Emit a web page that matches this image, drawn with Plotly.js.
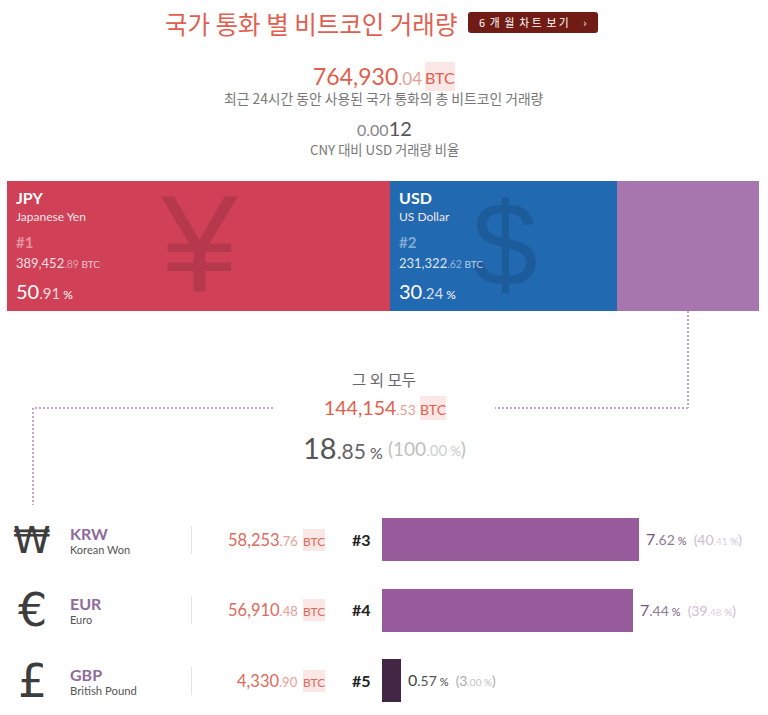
<!DOCTYPE html>
<html><head><meta charset="utf-8">
<script src="https://cdn.plot.ly/plotly-3.0.1.min.js"></script>
<style>html,body{margin:0;padding:0;background:#fff;overflow:hidden}</style>
</head><body><div id="chart" style="width:768px;height:715px"></div>
<script>
// ---- data ----
const topCodes = ["JPY", "USD", "Others"];
const topNames = ["Japanese Yen", "US Dollar", ""];
const topBtc = [389452.89, 231322.62, 144154.53];
const topPct = [50.91, 30.24, 18.85];
const topColors = ["#d04057", "#2169b0", "#a876ae"];
const topSymbols = ["¥", "$"];
const restCodes = ["KRW", "EUR", "GBP"];
const restNames = ["Korean Won", "Euro", "British Pound"];
const restSymbols = ["₩", "€", "£"];
const restRanks = ["#3", "#4", "#5"];
const restBtc = [58253.76, 56910.48, 4330.90];
const restPct = [7.62, 7.44, 0.57];
const restShare = [40.41, 39.48, 3.00];
const restColors = ["#975b9b", "#975b9b", "#432643"];
const totalBtc = 764930.04;
const ratio = "0.0012";
const othersLabel = "그 외 모두";
const titleText = "국가 통화 별 비트코인 거래량";
const buttonText = "6  개  월  차 트  보 기      ›";
const totalCaption = "최근 24시간 동안 사용된 국가 통화의 총 비트코인 거래량";
const ratioCaption = "CNY 대비 USD 거래량 비율";

// ---- helpers ----
const W = 768, H = 715;
const LATIN = "Lato, 'Noto Sans CJK KR', sans-serif";
const KR = "'Noto Sans CJK KR', sans-serif";
const px = x => x / W, py = y => 1 - y / H;
const ann = [];
function note(x, y, text, size, color, anchor, family) {
  ann.push({xref:"paper", yref:"paper", x:px(x), y:py(y), text, showarrow:false,
    xanchor:anchor||"left", yanchor:"middle", borderpad:0,
    font:{size, color, family:family||LATIN}});
}
const span = (t, size, color) => `<span style="font-size:${size}px;color:${color}">${t}</span>`;
function parts(v) {
  const [w, f] = v.toFixed(2).split(".");
  return [Number(w).toLocaleString("en-US"), "." + f];
}
const shapes = [];
function rect(x0, y0, x1, y1, color) {
  shapes.push({type:"rect", xref:"paper", yref:"paper", x0:px(x0), x1:px(x1), y0:py(y0), y1:py(y1),
    fillcolor:color, line:{width:0}, layer:"below"});
}
function dots(pts) {
  pts.slice(1).forEach((p, i) => shapes.push({type:"line", xref:"paper", yref:"paper",
    x0:px(pts[i][0]), y0:py(pts[i][1]), x1:px(p[0]), y1:py(p[1]),
    line:{color:"#c8a4cd", width:2, dash:"2px 2px"}}));
}
const PINK = "#fbe7e5", RED = "#e0604f", REDL = "#e8a096";

// ---- header ----
note(311, 24, titleText, 24.5, RED, "center", KR);
const r = 3;
shapes.push({type:"path", xref:"paper", yref:"paper", fillcolor:"#701c14", line:{width:0},
  path:`M${px(468+r)},${py(12)} L${px(598-r)},${py(12)} Q${px(598)},${py(12)} ${px(598)},${py(12+r)} L${px(598)},${py(33-r)} Q${px(598)},${py(33)} ${px(598-r)},${py(33)} L${px(468+r)},${py(33)} Q${px(468)},${py(33)} ${px(468)},${py(33-r)} L${px(468)},${py(12+r)} Q${px(468)},${py(12)} ${px(468+r)},${py(12)} Z`});
note(533, 22, buttonText, 10.8, "#ffffff", "center", KR);

const tp = parts(totalBtc);
rect(425, 62, 455, 91, PINK);
note(423, 76, tp[0] + span(tp[1], 17, REDL), 23, RED, "right");
note(440, 77, "BTC", 16, RED, "center");
note(384, 98, totalCaption, 13.8, "#777777", "center", KR);
note(384, 128, span(ratio.slice(0, 4), 16, "#888888") + ratio.slice(4), 20, "#555555", "center");
note(384, 149, ratioCaption, 13.3, "#777777", "center", KR);

// ---- stacked bar texts ----
const topX = [14.5, 397.5], symX = [199, 505];
const symSize = [138, 118];
topSymbols.forEach((s, i) => {
  note(symX[i], i === 0 ? 243 : 244, s, symSize[i], "rgba(0,0,0,0.12)", "center", "'Liberation Sans', sans-serif");
  const p = parts(topBtc[i]), q = parts(topPct[i]);
  note(topX[i], 197.5, `<b>${topCodes[i]}</b>`, 16, "#ffffff");
  note(topX[i], 216, topNames[i], 12, "#f4e6e8");
  note(topX[i], 242, `<b>#${i + 1}</b>`, 15, "rgba(255,255,255,0.45)");
  note(topX[i], 263, p[0] + span(p[1], 10.5, "rgba(255,255,255,0.6)") + span(" BTC", 10, "rgba(255,255,255,0.85)"), 13, "rgba(255,255,255,0.85)");
  note(topX[i], 291, q[0] + span(q[1], 15, "rgba(255,255,255,0.8)") + span(" %", 12, "#ffffff"), 20, "#ffffff");
});

// ---- others ----
const op = parts(topBtc[2]);
note(384, 379, othersLabel, 15.5, "#666666", "center", KR);
rect(420, 396, 446, 420, PINK);
note(417, 408, op[0] + span(op[1], 14, REDL), 19.5, RED, "right");
note(433, 409, "BTC", 14, RED, "center");
const oq = parts(topPct[2]);
note(384, 447, oq[0] + span(oq[1], 21, "#666666") + span(" %", 16, "#555555"), 29, "#555555", "right");
note(387, 448, "(100" + span(".00", 15, "#d0d0d0") + span(" %", 13, "#c8c8c8") + ")", 19, "#c0c0c0", "left");
dots([[688, 311], [688, 408], [495, 408]]);
dots([[273, 408], [33, 408], [33, 505]]);

// ---- rows ----
const rowY = [540, 610, 681];
const nameSize = [11, 11, 11.3];
restCodes.forEach((c, i) => {
  const y = rowY[i], p = parts(restBtc[i]);
  note(32, y, restSymbols[i], i === 0 ? 38 : 46, "#3d3d3d", "center", "'DejaVu Sans', sans-serif");
  note(68.5, y - 6.5, `<b>${c}</b>`, 16, "#8f6a9c");
  note(68.5, y + 9, restNames[i], nameSize[i], "#555555");
  rect(191, y - 14, 192, y + 14, "#e4e4e4");
  rect(303, y - 11, 325, y + 11, PINK);
  note(299, y, p[0] + span(p[1], 13, REDL), 16.5, "#dd6a5e", "right");
  note(314, y + 1, "BTC", 12, "#dd6a5e", "center");
  note(351, y - 0.5, `<b>${restRanks[i]}</b>`, 16, "#222222");
  const q = parts(restPct[i]), s = parts(restShare[i]);
  const dark = i === 2;
  ann.push({xref:"x2", yref:"y2", x:restBtc[i], y:i, xanchor:"left", yanchor:"middle", xshift:6, yshift:1, showarrow:false,
    borderpad:0, font:{size:16, color:dark ? "#444444" : "#75557f", family:LATIN},
    text: q[0] + span(q[1], 14, dark ? "#555555" : "#8f7a96") + span(" %", 11, dark ? "#444444" : "#75557f")
      + span("  (" + s[0], 14, dark ? "#aaaaaa" : "#cdbdd3") + span(s[1], 10, dark ? "#c4c4c4" : "#ddd2e0")
      + span(" %", 10, dark ? "#bbbbbb" : "#cdbdd3") + span(")", 14, dark ? "#aaaaaa" : "#cdbdd3")});
});

// ---- traces ----
const traces = topBtc.map((v, i) => ({type:"bar", orientation:"h", x:[v], y:[0], width:1,
  xaxis:"x", yaxis:"y", marker:{color:topColors[i], line:{width:0}}, hoverinfo:"skip", name:topCodes[i]}));
traces.push({type:"bar", orientation:"h", x:restBtc, y:restBtc.map((_, i) => i), width:0.61,
  xaxis:"x2", yaxis:"y2", marker:{color:restColors, line:{width:0}}, hoverinfo:"skip", name:"rest"});

const hidden = {visible:false, fixedrange:true, zeroline:false, showgrid:false};
Plotly.newPlot("chart", traces, {
  width:W, height:H, margin:{l:0,r:0,t:0,b:0}, paper_bgcolor:"#fff", plot_bgcolor:"rgba(0,0,0,0)",
  barmode:"stack", showlegend:false,
  xaxis:{...hidden, domain:[px(7), px(759)], range:[0, totalBtc]},
  yaxis:{...hidden, domain:[py(311), py(181)], range:[-0.5, 0.5]},
  xaxis2:{...hidden, domain:[px(382), 1], anchor:"y2", range:[0, (W - 382) * 58253.76 / 257]},
  yaxis2:{...hidden, domain:[0, py(504.25)], anchor:"x2", range:[2.489, -0.5]},
  annotations:ann, shapes
}, {displayModeBar:false, staticPlot:true});
</script></body></html>
